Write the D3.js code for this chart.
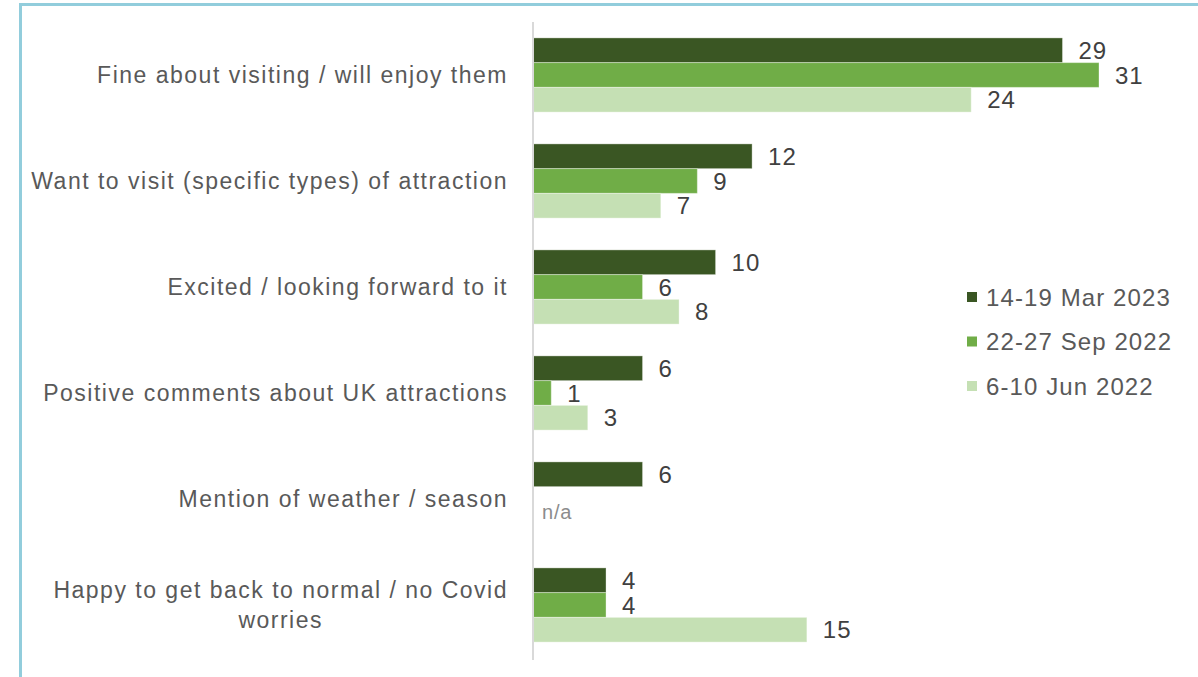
<!DOCTYPE html>
<html>
<head>
<meta charset="utf-8">
<script src="https://cdn.jsdelivr.net/npm/d3@7"></script>
<style>
  html, body { margin: 0; padding: 0; background: #fff; }
  svg { display: block; font-family: "Liberation Sans", Arial, sans-serif; }
</style>
</head>
<body>
<svg id="chart" width="1198" height="677"></svg>
<script>
// Responses to the question, % of mentions, by survey wave
const categories = [
  ["Fine about visiting / will enjoy them"],
  ["Want to visit (specific types) of attraction"],
  ["Excited / looking forward to it"],
  ["Positive comments about UK attractions"],
  ["Mention of weather / season"],
  ["Happy to get back to normal / no Covid", "worries"]
];
const seriesNames = ["14-19 Mar 2023", "22-27 Sep 2022", "6-10 Jun 2022"];
const mar2023 = [29, 12, 10, 6, 6, 4];
const sep2022 = [31, 9, 6, 1, null, 4];
const jun2022 = [24, 7, 8, 3, null, 15];
const seriesColors = ["#3a5623", "#70ad47", "#c5e0b4"];

const series = [mar2023, sep2022, jun2022];

const svg = d3.select("#chart");
const W = 1198, H = 677;

// frame (left and top edges)
svg.append("path")
  .attr("d", `M20.5,${H + 2} V4.5 H${W + 2}`)
  .attr("fill", "none")
  .attr("stroke", "#92cddc")
  .attr("stroke-width", 3);

const x0 = 533;
const x = d3.scaleLinear().domain([0, 31]).range([x0, x0 + 566]);
const y = d3.scaleBand().domain(d3.range(categories.length)).range([22, 658]).paddingInner(0.3).paddingOuter(0.15);
const ySub = d3.scaleBand().domain(d3.range(series.length)).range([0, y.bandwidth()]);

const groups = svg.append("g").selectAll("g")
  .data(categories)
  .join("g")
  .attr("transform", (d, i) => `translate(0,${y(i)})`);

series.forEach((vals, s) => {
  groups.each(function (d, i) {
    const v = vals[i];
    const g = d3.select(this);
    if (v == null) return;
    g.append("rect")
      .attr("x", x(0))
      .attr("y", ySub(s))
      .attr("width", x(v) - x(0))
      .attr("height", ySub.bandwidth())
      .attr("fill", seriesColors[s])
      .attr("stroke", "#ffffff")
      .attr("stroke-opacity", 0.35)
      .attr("stroke-width", 1);
    g.append("text")
      .attr("x", x(v) + 16)
      .attr("y", ySub(s) + ySub.bandwidth() / 2)
      .attr("dy", "0.36em")
      .attr("font-size", 24)
      .attr("letter-spacing", 1)
      .attr("fill", "#404040")
      .text(v);
  });
});

// n/a marker for the missing waves
groups.filter((d, i) => sep2022[i] == null && jun2022[i] == null)
  .append("text")
  .attr("x", x(0) + 9)
  .attr("y", ySub(2))
  .attr("dy", "0.36em")
  .attr("font-size", 20)
  .attr("letter-spacing", 0.8)
  .attr("fill", "#8c8c8c")
  .text("n/a");

// vertical axis line
svg.append("line")
  .attr("x1", x0).attr("x2", x0)
  .attr("y1", 22).attr("y2", 660)
  .attr("stroke", "#d9d9d9")
  .attr("stroke-width", 2);

// category labels: right-aligned; a wrapped second line is centred under the first
const labelRight = 508;
groups.append("text")
  .attr("font-size", 23)
  .attr("letter-spacing", 1.5)
  .attr("fill", "#595959")
  .each(function (lines) {
    const t = d3.select(this);
    const lh = 30;
    const start = y.bandwidth() / 2 - (lines.length - 1) * lh / 2;
    const first = t.append("tspan")
      .attr("x", labelRight)
      .attr("y", start)
      .attr("dy", "0.36em")
      .attr("text-anchor", "end")
      .text(lines[0]);
    if (lines.length > 1) {
      const w = first.node().getComputedTextLength();
      lines.slice(1).forEach((ln, k) => {
        t.append("tspan")
          .attr("x", labelRight - w / 2)
          .attr("y", start + (k + 1) * lh)
          .attr("dy", "0.36em")
          .attr("text-anchor", "middle")
          .text(ln);
      });
    }
  });

// legend
const legend = svg.append("g").attr("transform", "translate(967,297)");
seriesNames.forEach((name, s) => {
  const row = legend.append("g").attr("transform", `translate(0,${s * 44.5})`);
  row.append("rect")
    .attr("x", 0).attr("y", -5)
    .attr("width", 10).attr("height", 10)
    .attr("fill", seriesColors[s]);
  row.append("text")
    .attr("x", 19)
    .attr("dy", "0.36em")
    .attr("font-size", 24)
    .attr("letter-spacing", 1.1)
    .attr("fill", "#595959")
    .text(name);
});
</script>
</body>
</html>
